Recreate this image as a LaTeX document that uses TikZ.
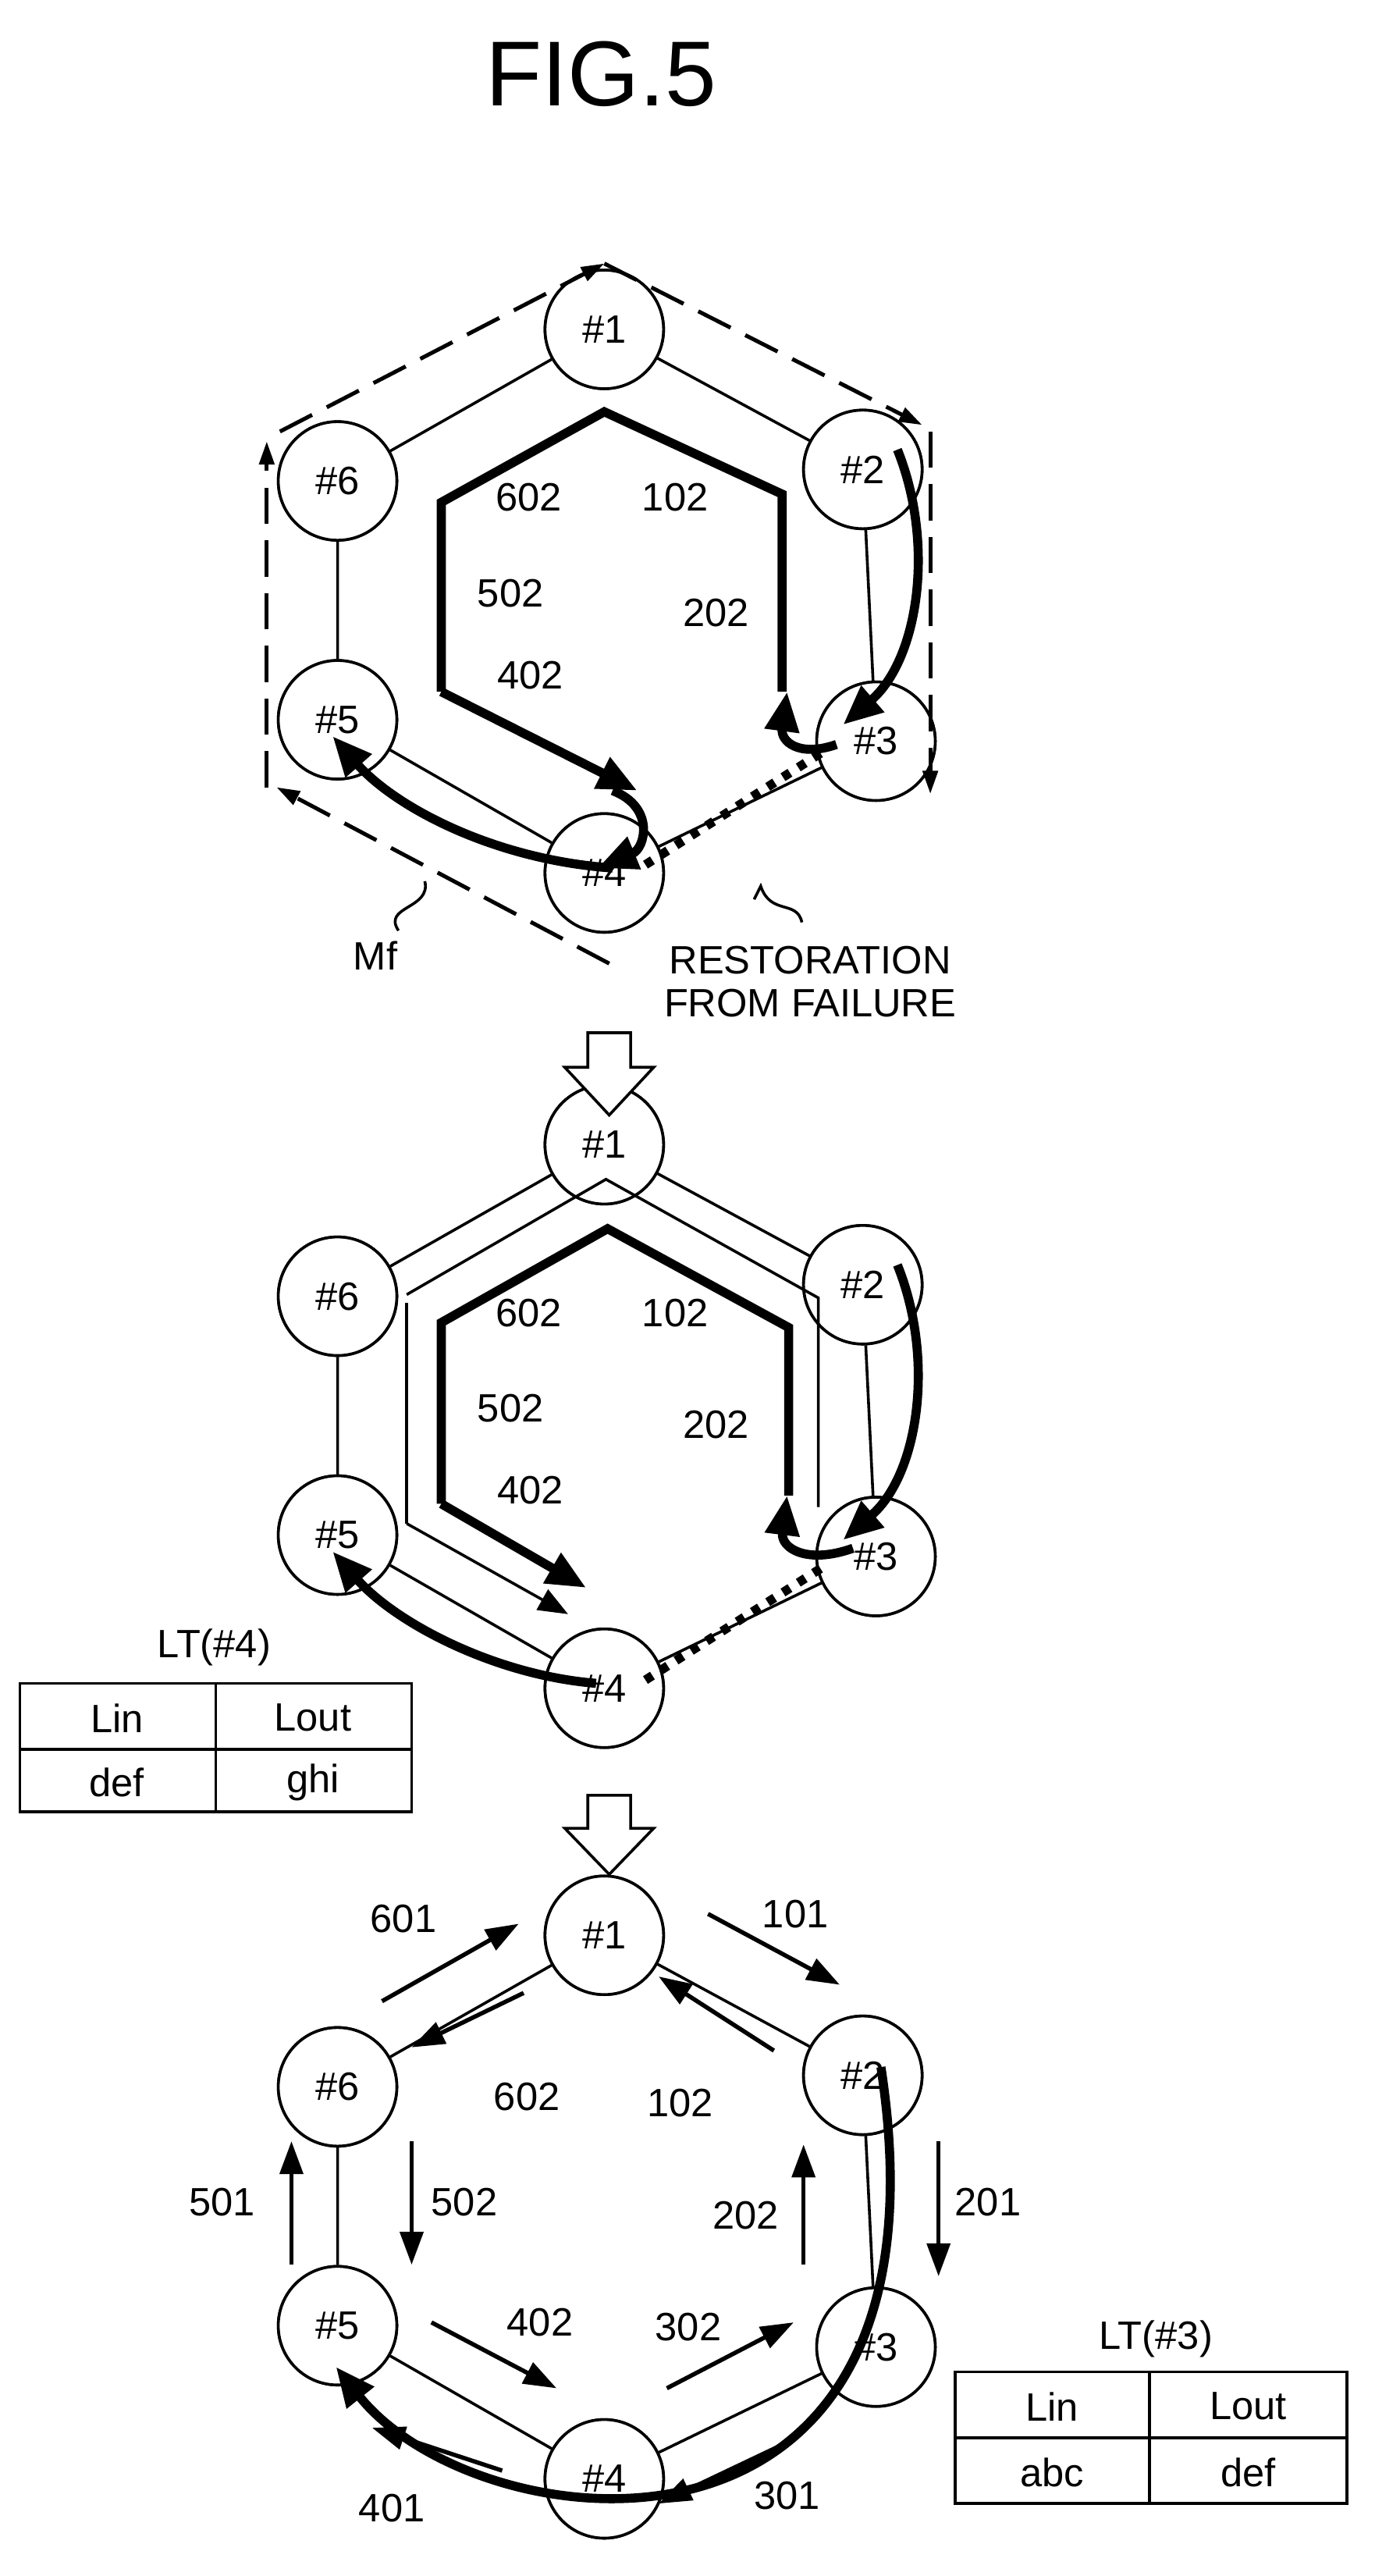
\documentclass[tikz,border=0pt]{standalone}
\usepackage{fontspec}
\setmainfont{Liberation Sans}
\usetikzlibrary{arrows.meta,positioning}

\begin{document}
\begin{tikzpicture}[x=1pt,y=-1pt,
  ring/.style={draw,circle,line width=1.7pt,minimum size=72pt,inner sep=0pt,fill=white,font=\fontsize{24}{26}\selectfont},
  thin/.style={line width=1.7pt},
  thick/.style={line width=5.5pt},
  tip/.style={-{Triangle[length=24pt,width=20pt]}},
  small tip/.style={-{Triangle[length=18pt,width=14pt]}},
  dashed ring/.style={line width=2.4pt,dash pattern=on 22pt off 10pt,-{Triangle[length=14pt,width=9pt]}},
  dotted line/.style={line width=5.5pt,dash pattern=on 5pt off 6pt},
  lbl/.style={font=\fontsize{24}{26}\selectfont,inner sep=1pt},
  flow/.style={line width=2.6pt,-{Triangle[length=20pt,width=14pt]}},
  open arrow/.style={line width=1.7pt,fill=white}]
\useasboundingbox (0,0) rectangle (850,1564);

\node[font=\fontsize{56}{60}\selectfont] (title) at (365,45) {FIG.5};

% three rings of nodes
\foreach \r/\cy in {a/365,b/860,c/1340}{
  \node[ring] (\r1) at (367,\cy-165) {\#1};
  \node[ring] (\r2) at (524,\cy-80) {\#2};
  \node[ring] (\r3) at (532,\cy+85) {\#3};
  \node[ring] (\r4) at (367,\cy+165) {\#4};
  \node[ring] (\r5) at (205,\cy+72) {\#5};
  \node[ring] (\r6) at (205,\cy-73) {\#6};
  \draw[thin] (\r1) -- (\r2) -- (\r3) -- (\r4) -- (\r5) -- (\r6) -- (\r1);
}
% redraw nodes above the lines
\foreach \r in {a,b,c}{
  \foreach \i in {1,...,6}{ \node[ring] at (\r\i) {\#\i}; }
}

% top ring: failure
\coordinate (mft) at (367,160);
\draw[dashed ring] (370,585) -- (168,478);
\draw[dashed ring] (162,478) -- (162,268);
\draw[dashed ring] (170,262) -- (mft);
\draw[dashed ring] (mft) -- (560,258);
\draw[dashed ring] (565,262) -- (565,482);
\draw[thick] (475,420) -- (475,300) -- (367,250) -- (268,305) -- (268,420);
\draw[thick,tip] (268,420) -- (387,480);
\draw[thick,tip] (545,273) .. controls (568,330) and (558,400) .. (512,440);
\draw[thick,tip] (508,452) .. controls (485,460) and (474,450) .. (478,420);
\draw[thick,tip] (372,480) .. controls (398,490) and (392,515) .. (363,527);
\draw[thick,tip] (372,527) .. controls (300,522) and (240,490) .. (202,447);
\draw[dotted line] (392,525) -- (502,455);
\node[lbl] (l602a) at (321,302) {602};
\node[lbl] (l102a) at (410,302) {102};
\node[lbl] (l502a) at (310,360) {502};
\node[lbl] (l202a) at (435,372) {202};
\node[lbl] (l402a) at (322,410) {402};
\node[lbl] (mf) at (228,580) {Mf};
\draw[thin] (242,565) .. controls (232,550) and (262,552) .. (258,535);
\node[lbl,align=center] (rest) at (492,596) {RESTORATION\\FROM FAILURE};
\draw[thin] (487,560) .. controls (484,546) and (468,556) .. (462,538) -- (458,546);

\draw[open arrow] (357,627) -- (383,627) -- (383,648) -- (397,648) -- (370,677) -- (343,648) -- (357,648) -- cycle;

% middle ring: restored
\draw[thin] (247,791) -- (247,925);
\draw[thin,small tip] (247,925) -- (345,980);
\draw[thin] (247,786) -- (368,716) -- (497,788) -- (497,915);
\draw[thick] (479,908) -- (479,806) -- (369,746) -- (268,803) -- (268,913);
\draw[thick,tip] (268,913) -- (356,964);
\draw[thick,tip] (545,768) .. controls (568,825) and (558,895) .. (512,935);
\draw[thick,tip] (518,940) .. controls (490,950) and (474,940) .. (478,908);
\draw[thick,tip] (362,1022) .. controls (300,1017) and (240,985) .. (202,942);
\draw[dotted line] (392,1020) -- (502,950);
\node[lbl] (l602b) at (321,797) {602};
\node[lbl] (l102b) at (410,797) {102};
\node[lbl] (l502b) at (310,855) {502};
\node[lbl] (l202b) at (435,865) {202};
\node[lbl] (l402b) at (322,905) {402};

% LT(#4)
\node[lbl] (lt4) at (130,1000) {LT(\#4)};
\draw[thin] (12,1022) rectangle (250,1100);
\draw[thin] (131,1022) -- (131,1100);
\draw[thin] (12,1062) -- (250,1062);
\node[lbl] at (71,1043) {Lin};
\node[lbl] at (190,1043) {Lout};
\node[lbl] at (71,1082) {def};
\node[lbl] at (190,1082) {ghi};

\draw[open arrow] (357,1090) -- (383,1090) -- (383,1110) -- (397,1110) -- (370,1138) -- (343,1110) -- (357,1110) -- cycle;

% bottom ring: label flows
\draw[flow] (232,1215) -- (315,1168);
\draw[flow] (430,1162) -- (510,1205);
\draw[flow] (318,1210) -- (250,1243);
\draw[flow] (470,1245) -- (400,1200);
\draw[flow] (250,1300) -- (250,1375);
\draw[flow] (177,1375) -- (177,1300);
\draw[flow] (488,1375) -- (488,1302);
\draw[flow] (570,1300) -- (570,1382);
\draw[flow] (262,1410) -- (338,1450);
\draw[flow] (405,1450) -- (482,1410);
\draw[flow] (305,1500) -- (226,1474);
\draw[flow] (480,1482) -- (400,1520);
\draw[thick,tip] (535,1255) .. controls (585,1580) and (290,1545) .. (204,1437);
\node[lbl] (l601) at (245,1165) {601};
\node[lbl] (l101) at (483,1162) {101};
\node[lbl] (l602c) at (320,1273) {602};
\node[lbl] (l102c) at (413,1277) {102};
\node[lbl] (l502c) at (282,1337) {502};
\node[lbl] (l501) at (135,1337) {501};
\node[lbl] (l202c) at (453,1345) {202};
\node[lbl] (l201) at (600,1337) {201};
\node[lbl] (l402c) at (328,1410) {402};
\node[lbl] (l302) at (418,1413) {302};
\node[lbl] (l401) at (238,1523) {401};
\node[lbl] (l301) at (478,1515) {301};

% LT(#3)
\node[lbl] (lt3) at (702,1420) {LT(\#3)};
\draw[thin] (580,1440) rectangle (818,1520);
\draw[thin] (698,1440) -- (698,1520);
\draw[thin] (580,1480) -- (818,1480);
\node[lbl] at (639,1461) {Lin};
\node[lbl] at (758,1461) {Lout};
\node[lbl] at (639,1501) {abc};
\node[lbl] at (758,1501) {def};
\end{tikzpicture}
\end{document}
